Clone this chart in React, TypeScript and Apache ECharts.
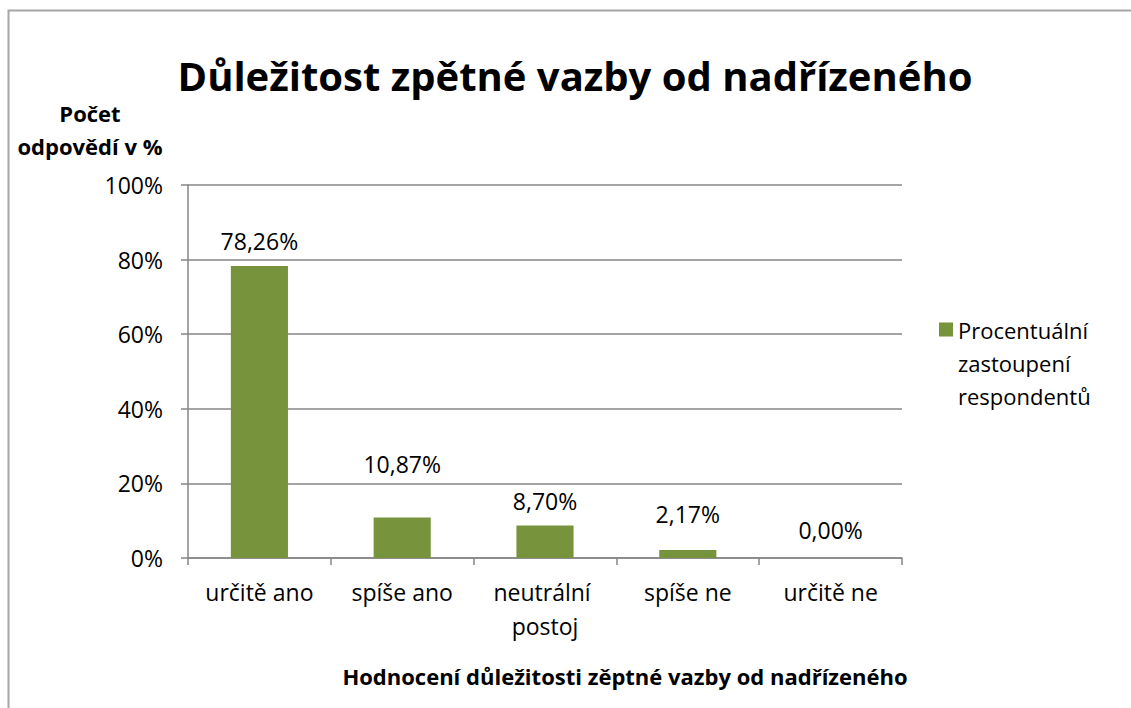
import React, { useEffect, useRef } from "react";
import * as echarts from "echarts";

const categories = ["určitě ano", "spíše ano", "neutrální postoj", "spíše ne", "určitě ne"];
const values = [78.26, 10.87, 8.7, 2.17, 0.0];
const seriesName = "Procentuální\nzastoupení\nrespondentů";
const yTicks = [0, 20, 40, 60, 80, 100];

const FONT = "'Open Sans', sans-serif";
const labelDistances = [14, 42, 13, 24, 17];

export default function App() {
  const ref = useRef<HTMLDivElement>(null);
  useEffect(() => {
    document.body.style.margin = "0";
    const chart = echarts.init(ref.current!, null, { renderer: "svg" });
    chart.setOption({
      animation: false,
      backgroundColor: "#ffffff",
      textStyle: { fontFamily: FONT },
      title: {
        text: "Důležitost zpětné vazby od nadřízeného",
        left: 570,
        textAlign: "center",
        top: 50,
        textStyle: { fontFamily: FONT, fontSize: 40, fontWeight: "bold", color: "#000" },
      },
      legend: {
        orient: "vertical",
        left: 934,
        top: 308,
        itemWidth: 14,
        itemHeight: 80,
        itemGap: 0,
        icon: "path://M0,0L14,0L14,14L0,14Z M0,80L0.01,80L0.01,80.01Z",
        data: [seriesName],
        textStyle: {
          fontFamily: FONT,
          fontSize: 22,
          color: "#000",
          lineHeight: 33,
        },
      },
      grid: { left: 188, top: 185, right: 229, bottom: 150 },
      xAxis: {
        type: "category",
        data: categories,
        axisLine: { lineStyle: { color: "#868686", width: 1.5 } },
        axisTick: { show: true, length: 7, lineStyle: { color: "#868686", width: 1.5 } },
        axisLabel: {
          interval: 0,
          color: "#000",
          fontSize: 23,
          fontFamily: FONT,
          margin: 17,
          width: 142,
          overflow: "break",
          lineHeight: 34,
        },
      },
      yAxis: {
        type: "value",
        min: 0,
        max: 100,
        interval: 20,
        axisLine: { show: true, lineStyle: { color: "#868686", width: 1.5 } },
        axisTick: { show: true, length: 7, lineStyle: { color: "#868686", width: 1.5 } },
        splitLine: { lineStyle: { color: "#868686", width: 1.5 } },
        axisLabel: {
          color: "#000",
          fontSize: 23,
          fontFamily: FONT,
          margin: 25,
          formatter: (v: number) => (yTicks.includes(v) ? v + "%" : ""),
        },
      },
      graphic: [
        {
          type: "rect",
          shape: { x: 8.5, y: 10.5, width: 1300, height: 900 },
          style: { fill: "none", stroke: "#a6a6a6", lineWidth: 2 },
          silent: true,
        },
        {
          type: "text",
          x: 90,
          y: 129,
          style: {
            text: "Počet\nodpovědí v %",
            font: `bold 22px ${FONT}`,
            fill: "#000",
            align: "center",
            verticalAlign: "middle",
            lineHeight: 33,
          },
        },
        {
          type: "text",
          x: 625,
          y: 676,
          style: {
            text: "Hodnocení důležitosti zěptné vazby od nadřízeného",
            font: `bold 22px ${FONT}`,
            fill: "#000",
            align: "center",
            verticalAlign: "middle",
          },
        },
      ],
      series: [
        {
          name: seriesName,
          type: "bar",
          barWidth: "40%",
          itemStyle: { color: "#77933C" },
          data: values.map((v, i) => ({
            value: v,
            label: { distance: labelDistances[i] },
          })),
          label: {
            show: true,
            position: "top",
            color: "#000",
            fontSize: 23,
            fontFamily: FONT,
            formatter: (p: any) => p.value.toFixed(2).replace(".", ",") + "%",
          },
        },
      ],
    });
    return () => chart.dispose();
  }, []);
  return <div ref={ref} style={{ width: 1131, height: 708 }} />;
}
